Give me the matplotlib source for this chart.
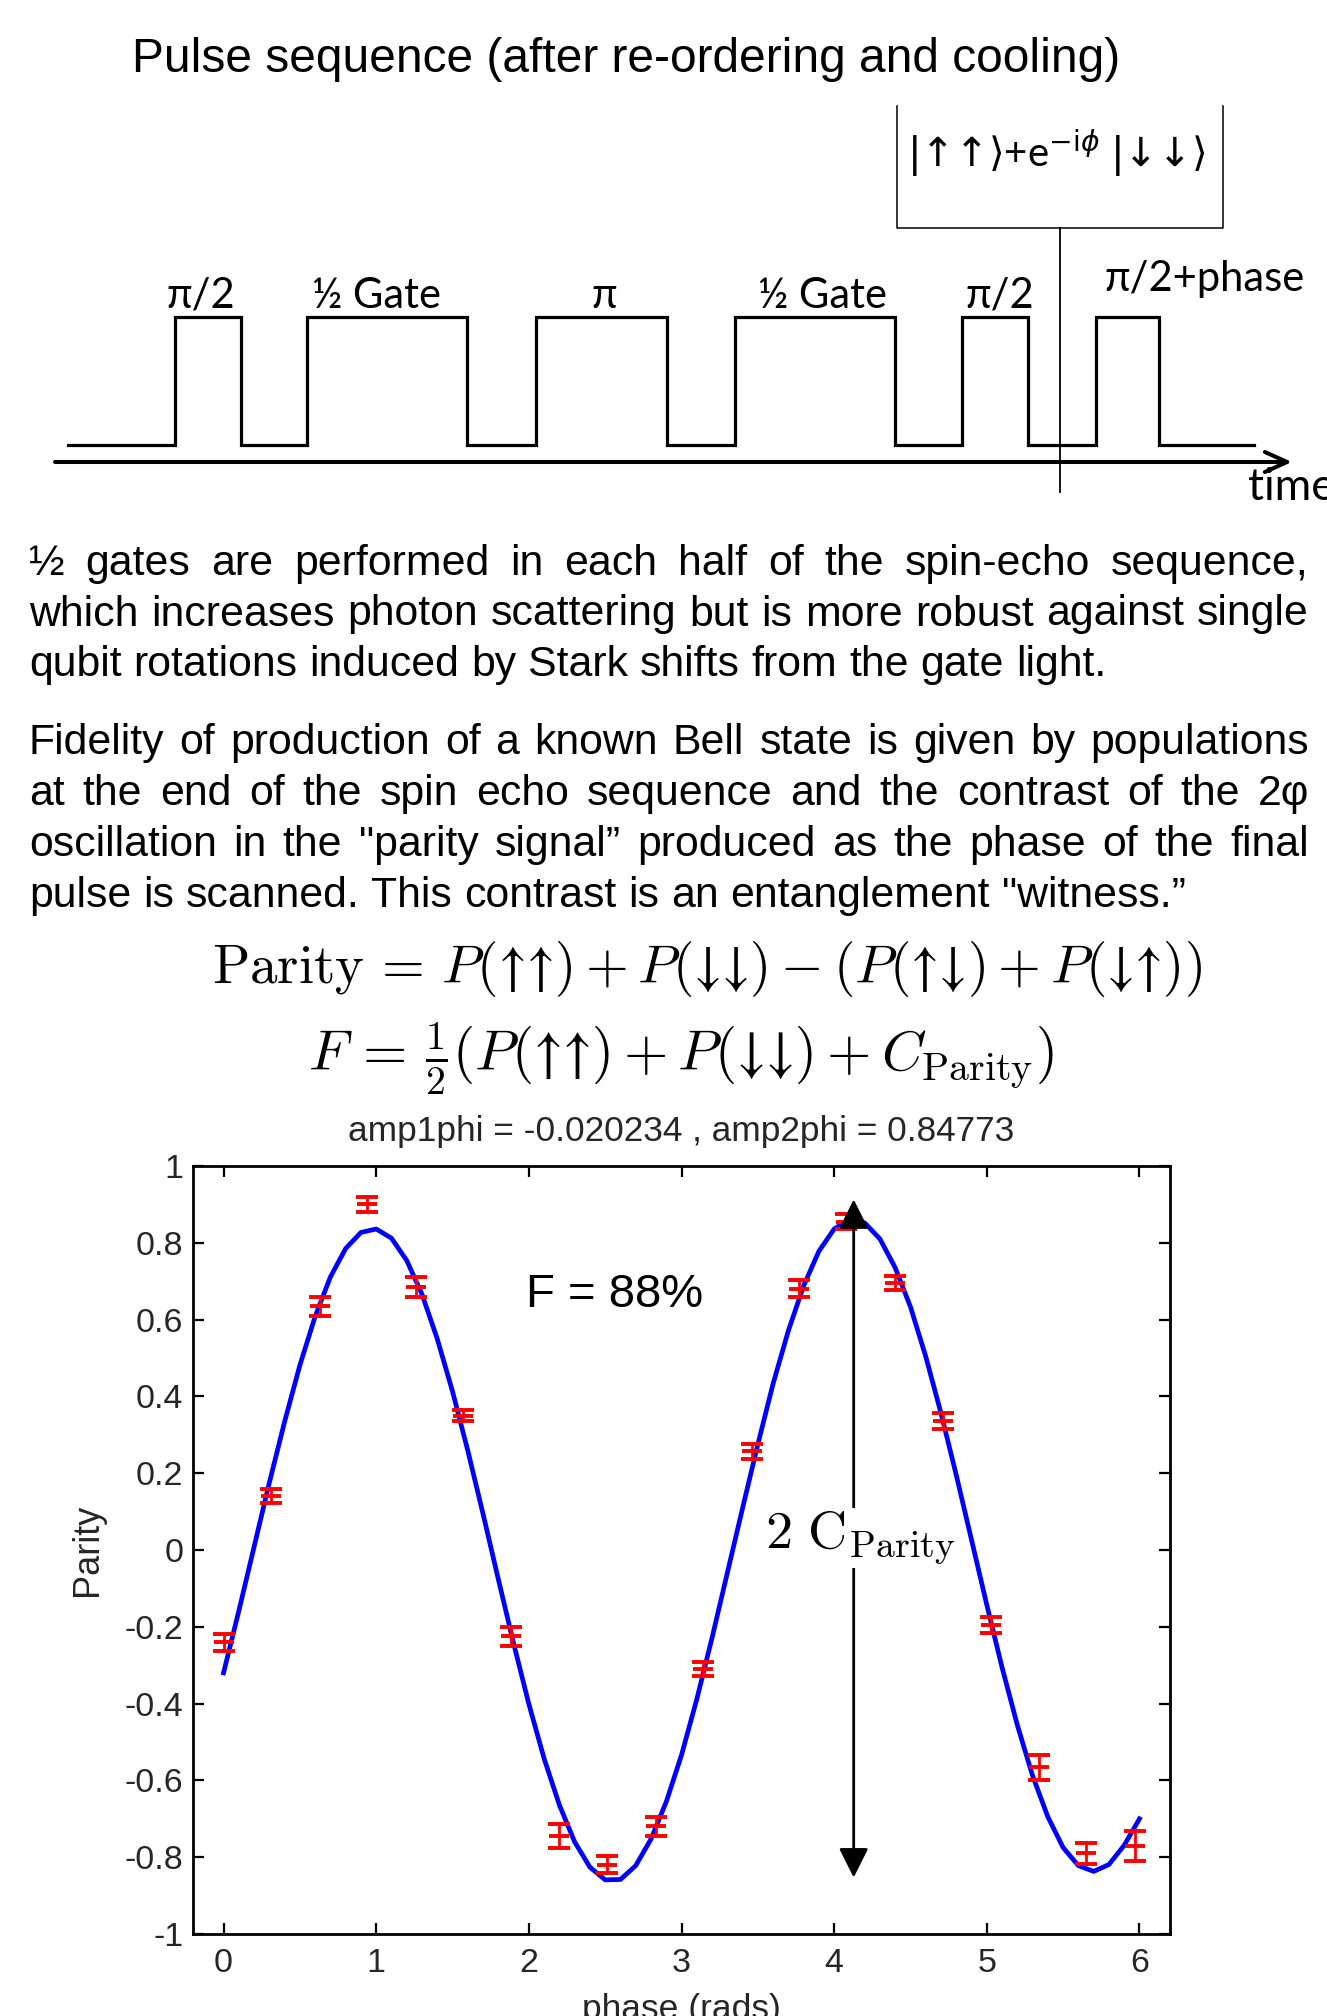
import numpy as np
import matplotlib
matplotlib.use('Agg')
import matplotlib.pyplot as plt

plt.rcParams['font.family'] = ['Liberation Sans', 'DejaVu Sans']

# pulse sequence diagram (positions along the drawing, in pixels)
pulse_on = [175, 307, 536, 735, 962, 1096]
pulse_off = [241, 467, 667, 895, 1028, 1159]
pulse_labels = ['π/2', '½ Gate', 'π', '½ Gate', 'π/2', 'π/2+phase']
label_x = [201, 376, 604, 822, 1000, 1205]
label_y = [308, 308, 308, 308, 308, 291]
seq_start, seq_end = 68, 1254
low_level, high_level = 445, 317

para1 = ['½ gates are performed in each half of the spin-echo sequence,',
         'which increases photon scattering but is more robust against single',
         'qubit rotations induced by Stark shifts from the gate light.']
para2 = ['Fidelity of production of a known Bell state is given by populations',
         'at the end of the spin echo sequence and the contrast of the 2φ',
         'oscillation in the "parity signal\u201d produced as the phase of the final',
         'pulse is scanned. This contrast is an entanglement "witness.\u201d']

# parity scan data
phase_pts = [0.00, 0.31, 0.63, 0.94, 1.26, 1.57, 1.88, 2.20, 2.51, 2.83,
             3.14, 3.46, 3.77, 4.08, 4.40, 4.71, 5.03, 5.34, 5.65, 5.97]
parity_pts = [-0.24, 0.14, 0.635, 0.90, 0.685, 0.35, -0.225, -0.745, -0.82, -0.72,
              -0.31, 0.257, 0.68, 0.855, 0.695, 0.336, -0.195, -0.566, -0.79, -0.771]
parity_err = [0.022, 0.018, 0.025, 0.02, 0.025, 0.015, 0.025, 0.032, 0.022, 0.025,
              0.018, 0.02, 0.022, 0.02, 0.018, 0.02, 0.02, 0.033, 0.027, 0.038]

fit_phase = np.round(np.arange(61) * 0.1, 1)
fit_parity = [-0.320, -0.159, 0.008, 0.175, 0.334, 0.481, 0.608, 0.711, 0.785, 0.827,
              0.836, 0.812, 0.754, 0.666, 0.550, 0.413, 0.259, 0.094, -0.076, -0.243,
              -0.401, -0.543, -0.664, -0.760, -0.826, -0.859, -0.858, -0.822, -0.753, -0.656,
              -0.534, -0.389, -0.229, -0.060, 0.109, 0.275, 0.433, 0.571, 0.688, 0.778,
              0.836, 0.861, 0.852, 0.810, 0.735, 0.633, 0.504, 0.356, 0.195, 0.026,
              -0.143, -0.306, -0.456, -0.588, -0.695, -0.775, -0.822, -0.837, -0.819, -0.769,
              -0.700]

yticks = [-1, -0.8, -0.6, -0.4, -0.2, 0, 0.2, 0.4, 0.6, 0.8, 1]
ytick_labels = ['-1', '-0.8', '-0.6', '-0.4', '-0.2', '0', '0.2', '0.4', '0.6', '0.8', '1']

W, H = 1327, 2016
fig = plt.figure(figsize=(W / 100, H / 100), dpi=100)

# full-page drawing layer in pixel units
ax0 = fig.add_axes([0, 0, 1, 1])
ax0.set_xlim(0, W)
ax0.set_ylim(H, 0)
ax0.axis('off')

ax0.text(626, 72, 'Pulse sequence (after re-ordering and cooling)', fontsize=34.5,
         ha='center', va='baseline')

xs, ys = [seq_start], [low_level]
for on, off in zip(pulse_on, pulse_off):
    xs += [on, on, off, off]
    ys += [low_level, high_level, high_level, low_level]
xs.append(seq_end)
ys.append(low_level)
ax0.plot(xs, ys, color='black', lw=2.3, solid_joinstyle='miter')

for lab, lx, ly in zip(pulse_labels, label_x, label_y):
    ax0.text(lx, ly, lab, fontsize=30, family=['Lato', 'DejaVu Sans'],
             ha='center', va='baseline')

# time axis
ax0.annotate('', xy=(1292, 462), xytext=(55, 462),
             arrowprops=dict(arrowstyle='->,head_length=0.8,head_width=0.36',
                             lw=2.9, color='black', mutation_scale=20,
                             shrinkA=0, shrinkB=0))
ax0.text(1248, 500, 'time', fontsize=32, family=['Lato', 'DejaVu Sans'],
         ha='left', va='baseline')

# bracket marking the Bell state
ax0.plot([897, 897, 1223, 1223], [106, 228, 228, 106], color='black', lw=1.1)
ax0.plot([1060, 1060], [228, 492], color='black', lw=1.3)
ax0.text(1056, 153, r'$|↑↑\rangle$+e$^{\mathrm{-i}\phi}$ $|↓↓\rangle$',
         fontsize=29, family='Lato', math_fontfamily='dejavusans',
         ha='center', va='center')

# justified paragraphs
renderer = fig.canvas.get_renderer()
para_size = 30.75


def text_width(s):
    t = ax0.text(0, 0, s, fontsize=para_size)
    w = t.get_window_extent(renderer).width
    t.remove()
    return w


space_w = text_width('a a') - text_width('aa')


def put_line(line, y, x0, x1, justify):
    words = line.split(' ')
    texts = [ax0.text(0, y, w, fontsize=para_size, va='baseline') for w in words]
    widths = [t.get_window_extent(renderer).width for t in texts]
    gap = (x1 - x0 - sum(widths)) / (len(words) - 1) if justify else space_w
    x = x0
    for t, w in zip(texts, widths):
        t.set_x(x)
        x += w + gap


for i, line in enumerate(para1):
    put_line(line, 575 + 50.5 * i, 29, 1309, i < len(para1) - 1)
for i, line in enumerate(para2):
    put_line(line, 754 + 51 * i, 29, 1309, i < len(para2) - 1)

# equations
ax0.text(707, 983,
         r'$\mathrm{Parity}\,=\,P(↑↑) + P(↓↓) - (P(↑↓) + P(↓↑))$',
         fontsize=39.5, math_fontfamily='cm', ha='center', va='baseline')
ax0.text(681, 1072,
         r'$F\,=\,\frac{1}{2}(P(↑↑) + P(↓↓) + C_{\mathrm{Parity}})$',
         fontsize=41, math_fontfamily='cm', ha='center', va='baseline')

# parity plot
ax = fig.add_axes([193 / W, 1 - 1934 / H, (1170 - 193) / W, (1934 - 1166) / H])
gray = '#262626'
ax.plot(fit_phase, fit_parity, color='blue', lw=3.4, zorder=3)
ax.errorbar(phase_pts, parity_pts, yerr=parity_err, fmt='_', color='red', ms=14, mew=2.8,
            ecolor='red', elinewidth=2, capsize=8, capthick=2.8, zorder=4)

ax.annotate('', xy=(4.128, 0.913), xytext=(4.128, -0.853),
            arrowprops=dict(arrowstyle='<|-|>,head_length=0.9,head_width=0.45',
                            lw=2, color='black', mutation_scale=20,
                            shrinkA=0, shrinkB=0), zorder=5)
ax.text(3.55, 0.005, r'$2\ \mathrm{C}_{\mathrm{Parity}}$', fontsize=39, math_fontfamily='cm',
        ha='left', va='baseline', zorder=6,
        bbox=dict(facecolor='white', edgecolor='none', pad=1))
ax.text(1.984, 0.632, 'F = 88%', fontsize=34, ha='left', va='baseline')

ax.set_xlim(-0.2, 6.2)
ax.set_ylim(-1, 1)
ax.set_xticks(range(7))
ax.set_yticks(yticks, ytick_labels)
ax.tick_params(direction='in', top=True, right=True, length=8, width=1.6,
               labelsize=24.5, labelcolor=gray)
ax.tick_params(axis='y', pad=7)
ax.tick_params(axis='x', pad=10)
for s in ax.spines.values():
    s.set_linewidth(2)
ax.set_title('amp1phi = -0.020234 , amp2phi = 0.84773', fontsize=25.4, color=gray, pad=18)
ax.set_xlabel('phase (rads)', fontsize=25.5, color=gray, labelpad=10)
ax.set_ylabel('Parity', fontsize=26, color=gray)
ax.yaxis.set_label_coords(-0.09, 0.5)

fig.savefig('out.png', dpi=100)
